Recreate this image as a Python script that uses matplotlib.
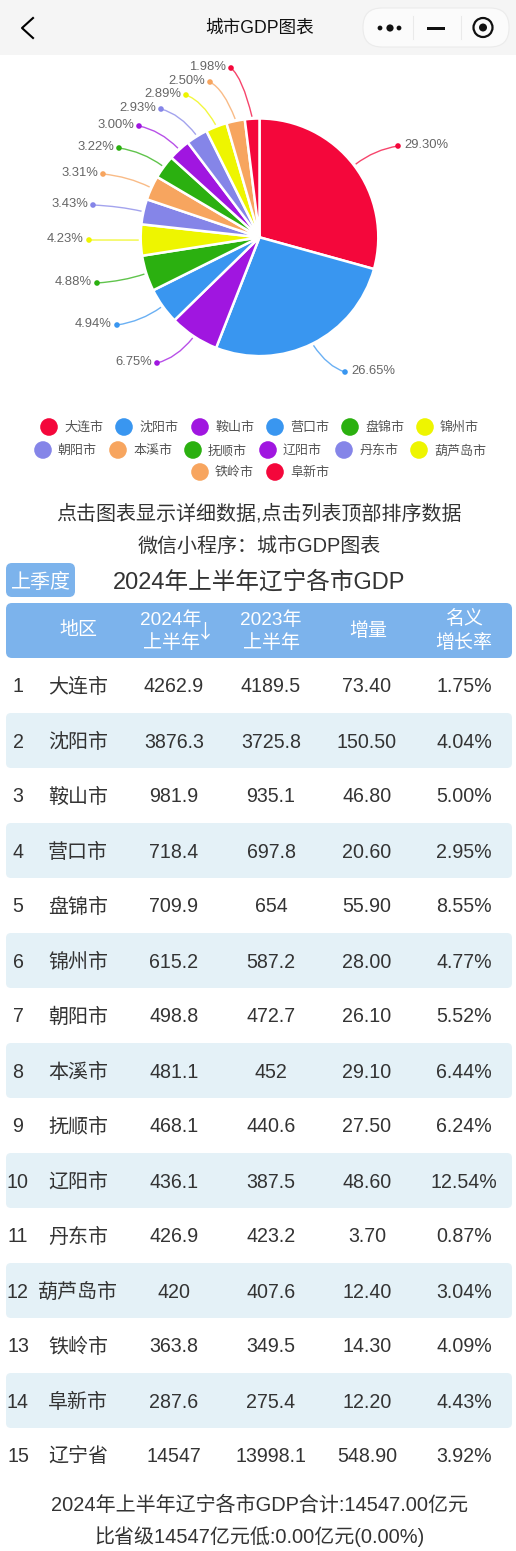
import matplotlib
matplotlib.use('Agg')
import matplotlib.pyplot as plt
from matplotlib.patches import Circle, FancyBboxPatch, PathPatch, Rectangle
from matplotlib.path import Path
import numpy as np

# ===== DATA =====
ranks = [str(i) for i in range(1, 16)]
cities = ['大连市', '沈阳市', '鞍山市', '营口市', '盘锦市', '锦州市', '朝阳市', '本溪市',
          '抚顺市', '辽阳市', '丹东市', '葫芦岛市', '铁岭市', '阜新市', '辽宁省']
gdp_2024 = ['4262.9', '3876.3', '981.9', '718.4', '709.9', '615.2', '498.8', '481.1',
            '468.1', '436.1', '426.9', '420', '363.8', '287.6', '14547']
gdp_2023 = ['4189.5', '3725.8', '935.1', '697.8', '654', '587.2', '472.7', '452',
            '440.6', '387.5', '423.2', '407.6', '349.5', '275.4', '13998.1']
increase = ['73.40', '150.50', '46.80', '20.60', '55.90', '28.00', '26.10', '29.10',
            '27.50', '48.60', '3.70', '12.40', '14.30', '12.20', '548.90']
growth = ['1.75%', '4.04%', '5.00%', '2.95%', '8.55%', '4.77%', '5.52%', '6.44%',
          '6.24%', '12.54%', '0.87%', '3.04%', '4.09%', '4.43%', '3.92%']
share = ['29.30%', '26.65%', '6.75%', '4.94%', '4.88%', '4.23%', '3.43%', '3.31%',
         '3.22%', '3.00%', '2.93%', '2.89%', '2.50%', '1.98%']

# ===== STYLE =====
RED, BLUE, PURPLE, GREEN = '#F4073B', '#3996F0', '#A016E0', '#2BB010'
YELLOW, PERI, ORANGE = '#EEF500', '#8585E8', '#F7A55F'
slice_colors = [RED, BLUE, PURPLE, BLUE, GREEN, YELLOW, PERI, ORANGE,
                GREEN, PURPLE, PERI, YELLOW, ORANGE, RED]
HEAD = '#7CB3EC'
STRIPE = '#E4F1F7'
DARK = '#333333'

# where the pie labels sit (pixels)
label_xy = [(398, 146), (345, 372), (157, 363), (117, 325), (97, 283), (89, 240), (93, 205),
            (103, 174), (119, 148), (139, 126), (161, 109), (186, 95), (210, 82), (231, 68)]
legend_xy = [(49, 427), (124, 427), (200, 427), (275, 427), (350, 427), (425, 427),
             (43, 450), (118, 450), (193, 450), (268, 450), (344, 450), (419, 450),
             (200, 472), (275, 472)]
PX = 72 / 100  # font size in px -> pt at dpi 100

plt.rcParams['font.family'] = ['Liberation Sans', 'Noto Sans CJK SC']

fig = plt.figure(figsize=(5.16, 15.51), dpi=100, facecolor='white')
ax = fig.add_axes([0, 0, 1, 1])


def txt(x, y, s, size, color=DARK, ha='center', **kw):
    # bbox centre sits about 1px high compared to the browser text
    ax.text(x, y + 1, s, fontsize=size * PX, color=color, ha=ha, va='center', **kw)


def rbox(x0, y0, x1, y1, r, **kw):
    ax.add_patch(FancyBboxPatch((x0 + r, y0 + r), x1 - x0 - 2 * r, y1 - y0 - 2 * r,
                                boxstyle=f'round,pad={r},rounding_size={r}', **kw))


# ===== PIE =====
cx, cy, radius = 259.5, 237.3, 118.8
values = [float(v) for v in gdp_2024[:14]]
ax.pie(values, colors=slice_colors, startangle=-90, counterclock=True, radius=radius,
       center=(cx, cy), wedgeprops=dict(edgecolor='white', linewidth=1.8))
ax.set_aspect('auto')
ax.set_xlim(0, 516)
ax.set_ylim(1551, 0)
ax.axis('off')

mids = (np.cumsum(values) - np.array(values) / 2) / sum(values) * 2 * np.pi
for ang, (lx, ly), col, lab in zip(mids, label_xy, slice_colors, share):
    sx = cx + (radius + 2) * np.sin(ang)
    sy = cy - (radius + 2) * np.cos(ang)
    ctrl = (sx + 0.45 * (lx - sx), ly + 0.2 * (sy - ly))
    ax.add_patch(PathPatch(Path([(sx, sy), ctrl, (lx, ly)], [Path.MOVETO, Path.CURVE3, Path.CURVE3]),
                           fill=False, edgecolor=col, lw=1.0, alpha=0.75))
    ax.add_patch(Circle((lx, ly), 2.8, color=col, lw=0))
    if lx > cx:
        txt(lx + 6, ly - 2, lab, 13, color='#666666', ha='left')
    else:
        txt(lx - 5, ly - 2, lab, 13, color='#666666', ha='right')

# ===== LEGEND =====
for (lx, ly), col, name in zip(legend_xy, slice_colors, cities):
    ax.add_patch(Circle((lx, ly), 8.8, color=col, lw=0))
    txt(lx + 15, ly, name, 13, color='#555555', ha='left')

# ===== NAV BAR =====
ax.add_patch(Rectangle((0, 0), 516, 55, color='#F5F5F5', lw=0))
ax.plot([33, 22, 33], [18, 28, 38], color='black', lw=1.5)
txt(260, 27, '城市GDP图表', 17.6, color='#111111')
rbox(363, 8, 509, 47, 19, facecolor='#FBFBFB', edgecolor='#EBEBEB', lw=0.8)
ax.plot([413, 413], [16, 39], color='#EAEAEA', lw=0.8)
ax.plot([461, 461], [16, 39], color='#EAEAEA', lw=0.8)
for dx, r in [(380, 2.4), (390, 3.6), (399, 2.4)]:
    ax.add_patch(Circle((dx, 28), r, color='#111111', lw=0))
ax.add_patch(Rectangle((427, 26.5), 18, 3.2, color='#111111', lw=0))
ax.add_patch(Circle((483, 27.5), 9.5, fill=False, edgecolor='#111111', lw=1.6))
ax.add_patch(Circle((483, 27.5), 4, color='#111111', lw=0))

# ===== TEXT ABOVE TABLE =====
txt(259, 513, '点击图表显示详细数据,点击列表顶部排序数据', 20)
txt(259, 545, '微信小程序\uff1a城市GDP图表', 20)
rbox(6, 563, 75, 597, 6, facecolor=HEAD, edgecolor='none')
txt(41, 581, '上季度', 20, color='white')
txt(259, 581, '2024年上半年辽宁各市GDP', 23.6)

# ===== TABLE HEADER =====
rbox(6, 603, 512, 658, 6, facecolor=HEAD, edgecolor='none')
txt(78, 630, '地区', 19, color='white')
txt(171, 619, '2024年', 19, color='white')
txt(171, 642, '上半年', 19, color='white')
ax.text(205, 633, '↓', fontsize=19 * PX, color='white', ha='center', va='center',
        family=['Noto Sans CJK SC', 'DejaVu Sans'])
txt(271, 619, '2023年', 19, color='white')
txt(271, 642, '上半年', 19, color='white')
txt(368, 630, '增量', 19, color='white')
txt(464, 618, '名义', 19, color='white')
txt(464, 642, '增长率', 19, color='white')

# ===== TABLE ROWS =====
for i, row in enumerate(zip(ranks, cities, gdp_2024, gdp_2023, increase, growth)):
    y = 686 + 55 * i
    if i % 2 == 1:
        rbox(6, y - 28, 512, y + 27, 5, facecolor=STRIPE, edgecolor='none')
    for x, s, fs in zip([18, 78, 174, 271, 367, 464], row, [19.6, 20, 19.6, 19.6, 19.6, 19.6]):
        txt(x, y, s, fs)

# ===== FOOTER =====
txt(259, 1504, '2024年上半年辽宁各市GDP合计:14547.00亿元', 20)
txt(259, 1536, '比省级14547亿元低:0.00亿元(0.00%)', 20)

fig.savefig('out.png', dpi=100, facecolor='white')
